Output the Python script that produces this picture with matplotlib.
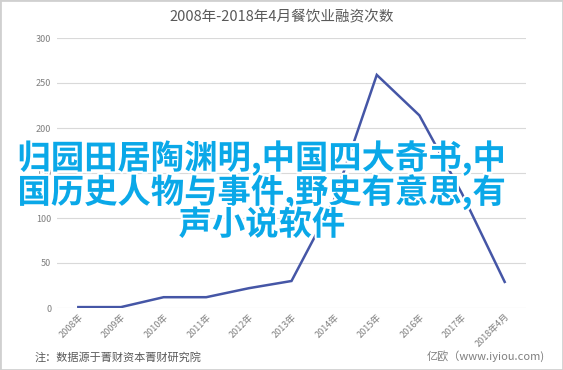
import matplotlib.pyplot as plt
import matplotlib.patheffects as pe
from matplotlib.patches import Rectangle

plt.rcParams['font.family'] = ['Noto Sans CJK SC', 'DejaVu Sans']

# data
years = ['2008年', '2009年', '2010年', '2011年', '2012年', '2013年',
         '2014年', '2015年', '2016年', '2017年', '2018年4月']
counts = [1, 1, 12, 12, 22, 30, 120, 259, 214, 127, 29]
yticks = [0, 50, 100, 150, 200, 250, 300]

title = '2008年-2018年4月餐饮业融资次数'
note = '注：数据源于菁财资本菁财研究院'
source = '亿欧（www.iyiou.com)'
overlay = '归园田居陶渊明,中国四大奇书,中\n国历史人物与事件,野史有意思,有\n声小说软件'

fig = plt.figure(figsize=(5.63, 3.70), dpi=100)
ax = fig.add_axes([57 / 563, 1 - 308 / 370, 469 / 563, 270 / 370])

x = range(len(years))
ax.plot(x, counts, color='#4556a6', linewidth=1.8, solid_joinstyle='miter')

ax.set_xlim(-0.5, len(years) - 0.5)
ax.set_ylim(0, 300)
ax.set_yticks(yticks)
ax.set_xticks(list(x))
ax.set_xticklabels(years, rotation=45, ha='right', rotation_mode='anchor')
ax.grid(axis='y', color='#d9d9d9', linewidth=0.8)
ax.set_axisbelow(True)
for s in ax.spines.values():
    s.set_visible(False)
ax.tick_params(axis='both', length=0, labelsize=6.5, colors='#7f7f7f', pad=4)
ax.tick_params(axis='x', pad=3)

fig.text(0.5, 1 - 17 / 370, title, ha='center', va='center',
         fontsize=10.5, color='#595959')
fig.text(35 / 563, 1 - 357 / 370, note, ha='left', va='center',
         fontsize=8, color='#595959')
fig.text(545 / 563, 1 - 356 / 370, source, ha='right', va='center',
         fontsize=8, color='#7f7f7f')

fig.text(262 / 563, 1 - 191 / 370, overlay, ha='center', va='center',
         fontsize=24, fontweight='bold', color='#0aa8e8', linespacing=0.95,
         path_effects=[pe.withStroke(linewidth=3, foreground='white')])

# thin grey frame around the picture
fig.patches.append(Rectangle((0, 0), 1, 1, transform=fig.transFigure,
                             fill=False, edgecolor='#d0d0d0', linewidth=2))

fig.savefig('out.png', dpi=100)
